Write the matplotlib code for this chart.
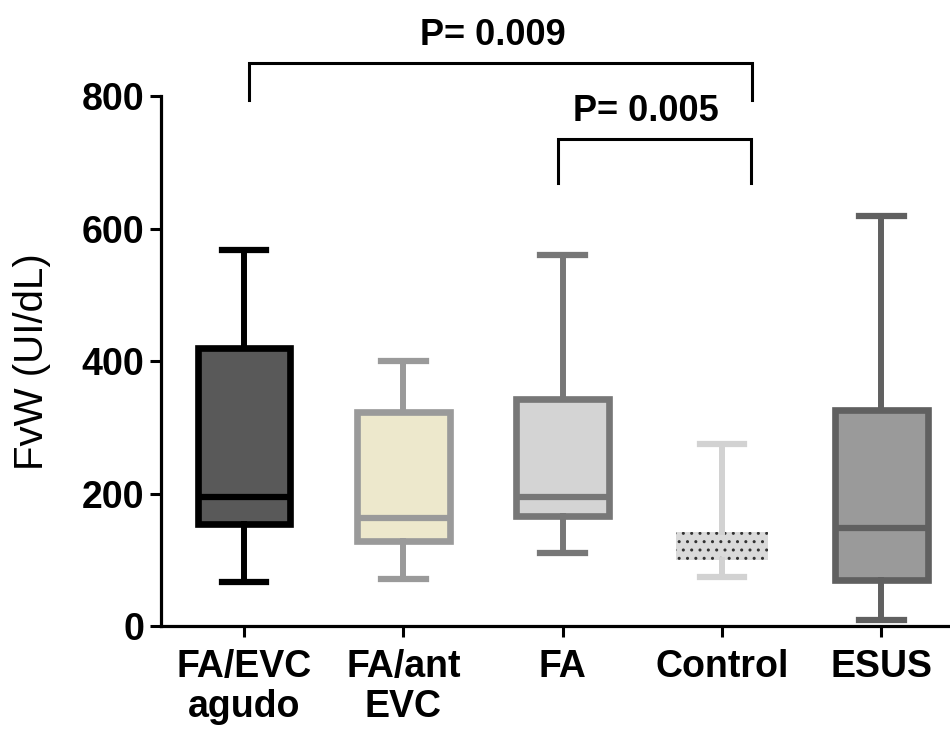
import numpy as np
import matplotlib.pyplot as plt

plt.rcParams['font.family'] = ['Liberation Sans', 'DejaVu Sans']

# values (FvW, UI/dL)
categories = ["FA/EVC\nagudo", "FA/ant\nEVC", "FA", "Control", "ESUS"]
whislo = [67, 71, 111, 75, 10]
q1 = [154, 129, 166, 100, 70]
med = [196, 163, 196, 126, 148]
q3 = [420, 324, 344, 143, 327]
whishi = [568, 400, 560, 276, 620]

face_colors = ["#595959", "#ede8cc", "#d4d4d4", "#dadada", "#9a9a9a"]
edge_colors = ["#000000", "#9a9a9a", "#777777", "#d2d2d2", "#606060"]

# significance brackets: (x_left, x_right, y_bottom, y_top, label)
brackets = [(0.03, 3.19, 794, 850, "P= 0.009"),
            (1.97, 3.18, 670, 735, "P= 0.005")]

fig = plt.figure(figsize=(9.5, 7.33), dpi=100)
ax = fig.add_axes([0.1695, 0.1453, 0.8305, 0.7232])

for i in range(len(categories)):
    stats = [dict(whislo=whislo[i], q1=q1[i], med=med[i], q3=q3[i],
                  whishi=whishi[i], fliers=[])]
    ec = edge_colors[i]
    if categories[i] == "Control":
        boxprops = dict(facecolor=face_colors[i], edgecolor="#333333",
                        linewidth=0, hatch="..")
        medianprops = dict(color="#dadada", linewidth=0)
    else:
        boxprops = dict(facecolor=face_colors[i], edgecolor=ec, linewidth=4.8)
        medianprops = dict(color=ec, linewidth=4.5)
    ax.bxp(stats, positions=[i], widths=0.58, patch_artist=True,
           showfliers=False, boxprops=boxprops, medianprops=medianprops,
           whiskerprops=dict(color=ec, linewidth=4.3),
           capprops=dict(color=ec, linewidth=4.5), capwidths=0.28)

for x0, x1, y0, y1, label in brackets:
    ax.plot([x0, x0, x1, x1], [y0, y1, y1, y0], color="black", lw=2.2,
            clip_on=False, solid_joinstyle="miter")
    ax.text((x0 + x1) / 2 - 0.05, y1 + 42, label, ha="center", va="center",
            fontsize=26, fontweight="bold", clip_on=False)

ax.set_xlim(-0.52, 4.43)
ax.set_ylim(0, 800)
ax.set_yticks([0, 200, 400, 600, 800])
ax.set_xticks(range(len(categories)))
ax.set_xticklabels(categories, fontsize=27, fontweight="bold", linespacing=1.15)
for lab in ax.get_yticklabels():
    lab.set_fontsize(27)
    lab.set_fontweight("bold")
ax.set_ylabel("FvW (UI/dL)", fontsize=29, labelpad=22)

for side in ["top", "right"]:
    ax.spines[side].set_visible(False)
for side in ["left", "bottom"]:
    ax.spines[side].set_linewidth(2.3)
ax.tick_params(axis="both", length=8, width=2.2)
ax.tick_params(axis="x", pad=8)
ax.tick_params(axis="y", pad=4)

fig.savefig("out.png", dpi=100)
